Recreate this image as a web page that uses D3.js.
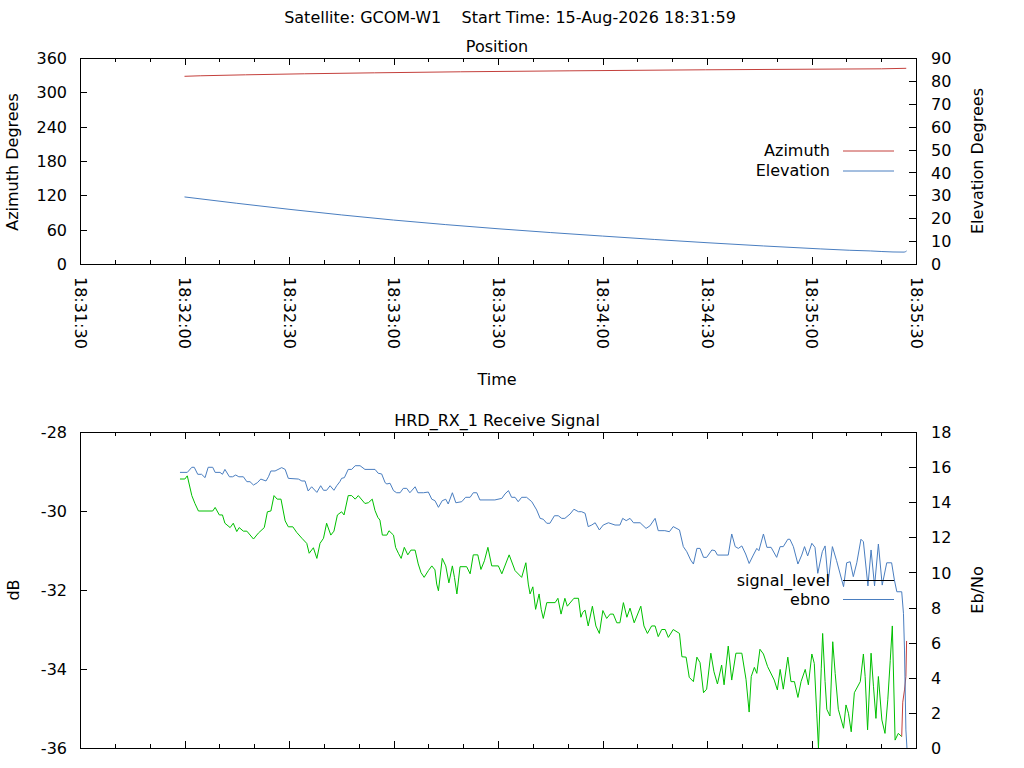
<!DOCTYPE html>
<html><head><meta charset="utf-8">
<script src="https://cdn.jsdelivr.net/npm/d3@7"></script>
<style>
body{margin:0;background:#fff}
svg text{font-family:"DejaVu Sans",sans-serif;font-size:16px;fill:#000}
</style>
</head><body>
<svg id="c" width="1024" height="768"></svg>
<script>
// ---------- DATA (times are seconds after 18:31:30 on 15-Aug-2026) ----------
const mainTitle = "Satellite: GCOM-W1    Start Time: 15-Aug-2026 18:31:59";
const topTitle = "Position";
const bottomTitle = "HRD_RX_1 Receive Signal";
const azTicks = [0, 60, 120, 180, 240, 300, 360];
const elTicks = [0, 10, 20, 30, 40, 50, 60, 70, 80, 90];
const dbTicks = [-36, -34, -32, -30, -28];
const ebTicks = [0, 2, 4, 6, 8, 10, 12, 14, 16, 18];

const azTimes = [30, 34.5, 47.5, 64.4, 84.6, 109.3, 140.4, 179.6, 230.1, 237.2];
const azValues = [328.0, 328.9, 330.6, 332.4, 334.1, 335.9, 337.6, 339.4, 341.1, 342.0];
const elTimes = [30, 60, 90, 120, 150, 180, 212.5, 221, 227, 233.4, 236.6, 237.3];
const elValues = [29.3, 23.9, 19.2, 15.4, 12.2, 9.3, 6.6, 6.0, 5.7, 5.25, 5.2, 5.7];

const ebnoTimes = [28.7,30.8,32.1,32.8,33.8,34.9,35.9,36.8,38.1,38.8,
40.2,40.9,41.6,42.9,43.8,44.7,45.6,46.9,47.9,48.8,
49.8,50.9,51.9,53.4,54.1,54.8,56.0,57.9,58.9,59.8,
62.7,63.7,64.6,65.5,66.5,68.0,69.1,69.9,70.8,71.8,
72.9,73.7,74.6,75.1,75.9,77.0,78.0,79.0,80.4,81.8,
84.7,85.6,86.6,87.6,88.1,89.0,90.0,90.9,91.9,92.8,
93.8,94.7,96.2,97.0,98.6,100.0,101.0,101.9,102.9,104.0,
105.0,105.7,106.9,107.9,109.6,110.7,112.0,112.9,113.9,114.8,
119.1,121.1,122.0,123.0,123.9,124.9,125.8,126.8,128.2,129.7,
131.1,132.1,133.0,134.0,134.9,136.2,137.3,138.3,139.2,140.7,
141.8,143.1,144.0,145.0,145.9,146.9,147.9,149.1,150.2,151.7,
153.6,155.0,155.8,156.8,157.9,158.9,160.8,162.5,163.6,165.1,
166.0,167.9,169.2,170.3,172.1,173.2,174.2,175.3,176.1,177.1,
178.0,179.0,179.9,181.4,182.3,183.0,186.1,187.1,188.1,189.0,
190.0,191.1,192.1,193.3,194.3,194.9,196.2,197.2,198.4,200.0,
201.0,201.9,203.2,203.8,204.8,206.1,207.2,208.0,208.9,210.1,
211.0,211.8,213.1,213.9,214.8,216.0,217.2,219.2,220.1,221.1,
222.0,223.0,224.2,224.9,226.2,227.1,228.1,229.2,230.3,231.6,
233.0,233.8,234.5,235.9,236.4,236.7,237.1,237.4];
const ebnoValues = [15.70,15.70,15.99,15.99,15.59,15.59,15.40,15.99,15.99,15.70,
15.70,15.59,15.87,15.45,15.45,15.55,15.45,15.45,15.17,15.17,
14.98,15.11,15.32,15.21,15.45,15.78,15.78,15.97,15.87,15.36,
15.32,15.21,15.21,14.64,14.88,14.56,14.94,14.68,14.68,14.94,
14.68,14.94,15.17,15.36,15.40,15.87,15.87,16.08,16.08,15.87,
15.87,15.65,15.61,15.11,15.04,15.08,14.66,14.54,14.54,14.79,
14.79,14.54,14.88,14.54,14.54,14.58,14.17,14.09,13.71,14.09,
14.17,13.90,14.54,13.97,14.03,14.28,14.28,14.54,14.54,14.13,
14.13,14.22,14.47,14.66,14.28,14.28,14.03,14.28,14.28,14.03,
13.56,13.08,13.03,12.80,12.80,13.23,13.23,13.08,13.08,13.33,
13.60,13.46,13.46,13.37,12.61,12.70,12.83,12.42,12.70,12.83,
12.70,12.70,13.08,12.95,13.08,12.83,12.83,12.51,12.65,13.08,
12.38,12.38,12.32,12.61,12.42,11.47,11.18,10.71,10.48,11.37,
11.37,10.86,10.86,11.28,11.24,10.99,10.99,12.19,11.47,11.37,
11.51,11.05,10.51,10.99,11.37,11.24,12.19,11.43,11.43,10.86,
11.47,11.47,11.89,11.89,11.47,10.48,10.99,11.47,10.94,11.66,
11.43,9.95,11.18,11.51,9.47,11.47,10.67,9.19,10.55,10.61,
9.76,10.55,11.89,11.75,9.23,11.28,9.23,11.62,9.28,10.55,
10.55,9.57,8.90,8.90,7.67,5.58,1.03,0];

const sigTimes = [28.7,30.1,30.8,32.1,33.0,34.0,38.1,38.8,40.0,40.9,
41.6,43.1,44.0,45.0,45.7,46.9,47.9,49.8,51.2,52.9,
53.8,54.8,55.7,56.6,57.7,58.9,59.8,61.1,62.2,63.7,
65.1,65.8,67.0,68.0,68.9,69.9,70.8,72.0,72.9,73.9,
75.1,75.8,77.0,78.0,79.0,79.9,81.8,82.8,83.9,84.7,
85.5,86.1,86.8,88.1,88.7,90.0,90.6,91.4,92.2,93.1,
94.1,95.0,96.2,97.1,97.9,98.8,100.0,101.0,101.9,102.4,
102.9,104.0,105.0,105.9,106.9,107.5,108.2,109.1,111.0,112.0,
112.9,114.2,115.1,116.1,117.1,118.2,120.1,121.1,123.2,124.9,
126.8,128.0,128.7,129.2,130.0,130.8,131.8,132.4,133.0,134.0,
136.4,137.2,138.1,139.2,139.9,141.8,143.1,143.8,144.3,145.0,
145.9,147.1,148.1,149.1,150.1,151.2,152.2,153.1,154.1,155.0,
156.0,157.0,157.9,159.1,161.0,161.9,162.9,164.1,165.1,166.0,
167.0,168.0,168.9,170.3,172.1,172.8,174.0,174.9,176.1,177.1,
178.0,179.0,179.9,181.1,182.0,183.0,184.2,184.9,186.1,187.1,
188.3,190.0,191.2,192.1,192.7,193.6,194.3,195.2,196.2,197.4,
199.3,200.2,201.0,201.9,203.2,204.1,205.1,206.1,207.0,208.2,
209.1,210.1,210.8,211.5,212.0,212.8,213.2,213.9,214.4,215.3,
216.1,216.8,217.7,219.2,219.9,220.6,221.4,222.3,224.0,224.9,
225.4,226.1,227.1,227.8,228.5,229.2,230.2,231.1,231.9,232.6,
233.2,234.0,234.9,235.9];
const sigValues = [-29.19,-29.19,-29.11,-29.61,-29.81,-30.00,-30.00,-29.91,-30.10,-30.10,
-30.31,-30.42,-30.31,-30.52,-30.42,-30.51,-30.51,-30.71,-30.56,-30.42,
-30.02,-30.00,-29.61,-29.70,-29.70,-30.25,-30.40,-30.40,-30.54,-30.69,
-30.82,-31.07,-30.93,-31.20,-30.82,-30.69,-30.31,-30.61,-30.51,-30.10,
-30.02,-30.10,-29.61,-29.61,-29.70,-29.61,-29.81,-29.79,-29.70,-29.99,
-30.16,-30.23,-30.61,-30.61,-30.50,-30.61,-30.92,-31.07,-31.20,-30.92,
-31.11,-30.99,-30.99,-31.34,-31.56,-31.68,-31.51,-31.39,-31.49,-31.85,
-32.02,-31.20,-31.39,-31.82,-31.39,-31.68,-32.10,-31.41,-31.41,-31.59,
-31.11,-31.11,-31.48,-31.26,-30.92,-31.39,-31.39,-31.59,-31.11,-31.51,
-31.68,-31.31,-31.85,-32.10,-31.92,-32.49,-32.10,-32.49,-32.72,-32.32,
-32.32,-32.21,-32.61,-32.21,-32.41,-32.21,-32.21,-32.69,-32.57,-32.51,
-32.91,-32.41,-32.91,-33.10,-32.52,-32.72,-32.61,-32.61,-32.83,-32.83,
-32.32,-32.69,-32.46,-32.83,-32.41,-32.91,-33.10,-32.91,-32.91,-33.18,
-33.00,-33.00,-33.20,-33.00,-33.10,-33.69,-33.70,-34.21,-34.32,-33.70,
-33.84,-34.60,-34.51,-33.60,-34.07,-34.38,-33.90,-34.40,-33.42,-34.28,
-33.60,-33.60,-34.26,-35.09,-34.19,-33.96,-34.11,-33.50,-33.62,-33.94,
-34.28,-34.53,-34.01,-34.51,-33.70,-34.32,-34.32,-34.72,-34.32,-34.01,
-34.40,-33.62,-33.86,-35.12,-36.00,-33.98,-33.10,-34.32,-35.02,-35.19,
-33.31,-34.11,-35.02,-35.50,-34.91,-35.12,-35.59,-34.60,-34.32,-33.62,
-34.19,-35.54,-33.60,-34.45,-35.25,-34.19,-35.29,-35.63,-34.78,-33.79,
-32.91,-35.80,-35.63,-35.71];
// tail of signal_level drawn in red
const sigTailTimes = [235.9, 236.2, 236.7, 237.1, 237.3];
const sigTailValues = [-35.71, -34.84, -34.53, -34.19, -33.29];

// ---------- DRAWING ----------
const svg = d3.select("#c");
const base = Date.UTC(2026, 7, 15, 18, 31, 30);
const toDate = s => new Date(base + s * 1000);
const L = 80, R = 916;
const x = d3.scaleUtc().domain([toDate(0), toDate(240)]).range([L, R]);
const fmt = d3.utcFormat("%H:%M:%S");
const numFmt = d => String(d);
const C_RED = "#c4403c", C_BLUE = "#4a7ec0", C_GREEN = "#00c000";

const P1 = {top: 58, bottom: 264};
const P2 = {top: 432, bottom: 748};
const yAz = d3.scaleLinear().domain([0, 360]).range([P1.bottom, P1.top]);
const yEl = d3.scaleLinear().domain([0, 90]).range([P1.bottom, P1.top]);
const yDb = d3.scaleLinear().domain([-36, -28]).range([P2.bottom, P2.top]);
const yEb = d3.scaleLinear().domain([0, 18]).range([P2.bottom, P2.top]);

const zip = (t, v) => t.map((d, i) => ({t: d, v: v[i]}));

function styleAxis(g) {
  g.attr("font-family", null).attr("font-size", null);
  g.select(".domain").remove();
  g.selectAll("line").attr("stroke", "#000").attr("shape-rendering", "crispEdges");
  g.selectAll("text").attr("fill", "#000");
}

function timeAxes(P, labels) {
  const minor = d3.utcSecond.every(10), major = d3.utcSecond.every(30);
  svg.append("g").attr("transform", `translate(0,${P.bottom})`)
    .call(d3.axisBottom(x).ticks(minor).tickSize(-4).tickFormat("")).call(styleAxis);
  svg.append("g").attr("transform", `translate(0,${P.top})`)
    .call(d3.axisTop(x).ticks(minor).tickSize(-4).tickFormat("")).call(styleAxis);
  const gb = svg.append("g").attr("transform", `translate(0,${P.bottom})`)
    .call(d3.axisBottom(x).ticks(major).tickSize(-7).tickFormat(labels ? fmt : "")).call(styleAxis);
  if (labels) {
    gb.selectAll("text").attr("transform", "rotate(90)")
      .attr("x", 13).attr("y", 0).attr("dy", "0.35em").attr("text-anchor", "start");
  }
  svg.append("g").attr("transform", `translate(0,${P.top})`)
    .call(d3.axisTop(x).ticks(major).tickSize(-7).tickFormat("")).call(styleAxis);
}

function yAxes(yl, lt, yr, rt) {
  svg.append("g").attr("transform", `translate(${L},0)`)
    .call(d3.axisLeft(yl).tickValues(lt).tickFormat(numFmt).tickSize(-7).tickPadding(13)).call(styleAxis)
    .selectAll("text").attr("dy", "0.35em");
  svg.append("g").attr("transform", `translate(${R},0)`)
    .call(d3.axisRight(yr).tickValues(rt).tickFormat(numFmt).tickSize(-7).tickPadding(15)).call(styleAxis)
    .selectAll("text").attr("dy", "0.35em");
}

function frame(P) {
  svg.append("rect").attr("x", L).attr("y", P.top).attr("width", R - L).attr("height", P.bottom - P.top)
    .attr("fill", "none").attr("stroke", "#000").attr("shape-rendering", "crispEdges");
}

function series(data, y, color, curve) {
  const line = d3.line().x(d => x(toDate(d.t))).y(d => y(d.v));
  if (curve) line.curve(curve);
  svg.append("path").datum(data).attr("d", line)
    .attr("fill", "none").attr("stroke", color).attr("stroke-width", 1);
}

function rotLabel(text, cx, cy, angle) {
  svg.append("text").attr("transform", `translate(${cx},${cy}) rotate(${angle})`)
    .attr("text-anchor", "middle").text(text);
}

function legend(items, xText, xl1, xl2, y0, step) {
  items.forEach((it, i) => {
    const yy = y0 + i * step;
    svg.append("text").attr("x", xText).attr("y", yy).attr("dy", "0.36em")
      .attr("text-anchor", "end").text(it.label);
    svg.append("line").attr("x1", xl1).attr("x2", xl2).attr("y1", yy + 0.5).attr("y2", yy + 0.5)
      .attr("stroke", it.color).attr("stroke-width", 1);
  });
}

// titles
svg.append("text").attr("x", 510).attr("y", 23).attr("text-anchor", "middle")
  .style("white-space", "pre").text(mainTitle);
svg.append("text").attr("x", 497).attr("y", 52).attr("text-anchor", "middle").text(topTitle);
svg.append("text").attr("x", 497).attr("y", 426).attr("text-anchor", "middle").text(bottomTitle);

// ---- top plot ----
timeAxes(P1, true);
yAxes(yAz, azTicks, yEl, elTicks);
frame(P1);
series(zip(azTimes, azValues), yAz, C_RED);
series(zip(elTimes, elValues), yEl, C_BLUE, d3.curveMonotoneX);
rotLabel("Azimuth Degrees", 18, 162, -90);
rotLabel("Elevation Degrees", 983, 161, -90);
svg.append("text").attr("x", 497).attr("y", 385).attr("text-anchor", "middle").text("Time");
legend([{label: "Azimuth", color: C_RED}, {label: "Elevation", color: C_BLUE}], 830, 843, 894, 150.5, 20);

// ---- bottom plot ----
timeAxes(P2, false);
yAxes(yDb, dbTicks, yEb, ebTicks);
frame(P2);
series(zip(sigTimes, sigValues), yDb, C_GREEN);
series(zip(sigTailTimes, sigTailValues), yDb, C_RED);
series(zip(ebnoTimes, ebnoValues), yEb, C_BLUE);
rotLabel("dB", 19, 590, -90);
rotLabel("Eb/No", 983, 590, -90);
legend([{label: "signal_level", color: "#000"}, {label: "ebno", color: C_BLUE}], 830, 843, 894, 580, 19);
</script>
</body></html>
